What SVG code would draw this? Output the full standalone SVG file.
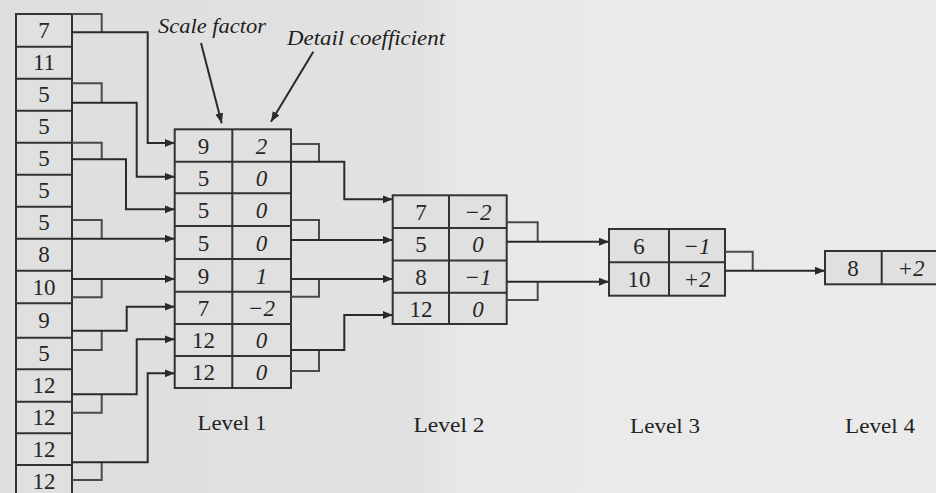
<svg xmlns="http://www.w3.org/2000/svg" width="936" height="493" viewBox="0 0 936 493">
<defs>
<linearGradient id="bg" x1="0" y1="0" x2="1" y2="0">
<stop offset="0" stop-color="#dedede"/>
<stop offset="0.45" stop-color="#e2e2e2"/>
<stop offset="0.5" stop-color="#e9e9e9"/>
<stop offset="1" stop-color="#ebebeb"/>
</linearGradient>
<marker id="arr" markerUnits="userSpaceOnUse" markerWidth="12" markerHeight="10" refX="10" refY="4" orient="auto">
<path d="M0,0 L10,4 L0,8 Z" fill="#2a2a2a"/>
</marker>
</defs>
<style>
.box{fill:#e0e0e0;stroke:#333;stroke-width:2}
.ln{fill:none;stroke:#333;stroke-width:2}
.br{fill:none;stroke:#4a4a4a;stroke-width:2}
.cn{fill:none;stroke:#2a2a2a;stroke-width:2}
.v{font-family:"Liberation Serif",serif;font-size:23px;fill:#262626;text-anchor:middle}
.d{font-family:"Liberation Serif",serif;font-size:23px;font-style:italic;fill:#262626;text-anchor:middle}
.lab{font-family:"Liberation Serif",serif;font-size:22px;fill:#222;text-anchor:middle}
.cap{font-family:"Liberation Serif",serif;font-size:20px;font-style:italic;fill:#1e1e1e}
</style>
<rect x="0" y="0" width="936" height="493" fill="url(#bg)"/>

<g id="input">
<rect class="box" x="16" y="14" width="56" height="490"/>
<path class="ln" d="M16,46.7H72M16,78.7H72M16,110.7H72M16,142.7H72M16,174.7H72M16,206.7H72M16,238.7H72M16,270.7H72M16,303.3H72M16,337.7H72M16,369.3H72M16,401.7H72M16,433.3H72M16,465H72"/>
<text class="v" x="44" y="38">7</text>
<text class="v" x="44" y="70">11</text>
<text class="v" x="44" y="102">5</text>
<text class="v" x="44" y="134">5</text>
<text class="v" x="44" y="166">5</text>
<text class="v" x="44" y="198">5</text>
<text class="v" x="44" y="230">5</text>
<text class="v" x="44" y="262">8</text>
<text class="v" x="44" y="295">10</text>
<text class="v" x="44" y="328">9</text>
<text class="v" x="44" y="361">5</text>
<text class="v" x="44" y="393">12</text>
<text class="v" x="44" y="425">12</text>
<text class="v" x="44" y="457">12</text>
<text class="v" x="44" y="489">12</text>
</g>

<g id="level1">
<rect class="box" x="174.7" y="129.3" width="116.3" height="258.7"/>
<path class="ln" d="M232.3,129.3V388M174.7,161.7H291M174.7,193.3H291M174.7,226H291M174.7,259H291M174.7,291.7H291M174.7,324H291M174.7,356H291"/>
<text class="v" x="203.5" y="153.5">9</text><text class="d" x="261.6" y="153.5">2</text>
<text class="v" x="203.5" y="185.5">5</text><text class="d" x="261.6" y="185.5">0</text>
<text class="v" x="203.5" y="218">5</text><text class="d" x="261.6" y="218">0</text>
<text class="v" x="203.5" y="251">5</text><text class="d" x="261.6" y="251">0</text>
<text class="v" x="203.5" y="283.5">9</text><text class="d" x="261.6" y="283.5">1</text>
<text class="v" x="203.5" y="316">7</text><text class="d" x="261.6" y="316">−2</text>
<text class="v" x="203.5" y="348">12</text><text class="d" x="261.6" y="348">0</text>
<text class="v" x="203.5" y="380">12</text><text class="d" x="261.6" y="380">0</text>
</g>

<g id="level2">
<rect class="box" x="392.7" y="195.3" width="114" height="128.7"/>
<path class="ln" d="M449,195.3V324M392.7,228H506.7M392.7,260.5H506.7M392.7,292.7H506.7"/>
<text class="v" x="421" y="219.5">7</text><text class="d" x="478" y="219.5">−2</text>
<text class="v" x="421" y="252">5</text><text class="d" x="478" y="252">0</text>
<text class="v" x="421" y="284.5">8</text><text class="d" x="478" y="284.5">−1</text>
<text class="v" x="421" y="316.5">12</text><text class="d" x="478" y="316.5">0</text>
</g>

<g id="level3">
<rect class="box" x="609" y="229" width="116" height="66.7"/>
<path class="ln" d="M669,229V295.7M609,262.3H725"/>
<text class="v" x="639" y="253.5">6</text><text class="d" x="697" y="253.5">−1</text>
<text class="v" x="639" y="287">10</text><text class="d" x="697" y="287">+2</text>
</g>

<g id="level4">
<rect class="box" x="825" y="251" width="120" height="33.3"/>
<path class="ln" d="M881.7,251V284.3"/>
<text class="v" x="853" y="275.5">8</text><text class="d" x="911" y="275.5">+2</text>
</g>

<g id="connectors">
<path class="br" d="M72,14H101.7V32.3"/>
<path class="br" d="M72,83.3H101.7V102.7"/>
<path class="br" d="M72,142.7H101.7V159.3"/>
<path class="br" d="M72,220H101.7V238.7"/>
<path class="br" d="M101.7,279V297.3H72"/>
<path class="br" d="M101.7,330.7V350H72"/>
<path class="br" d="M101.7,394.3V412.7H72"/>
<path class="br" d="M101.7,462.3V480H72"/>
<path class="cn" d="M72,32.3H147.7V143H174.7" marker-end="url(#arr)"/>
<path class="cn" d="M72,102.7H136.7V176.7H174.7" marker-end="url(#arr)"/>
<path class="cn" d="M72,159.3H126V209.3H174.7" marker-end="url(#arr)"/>
<path class="cn" d="M72,238.7H174.7" marker-end="url(#arr)"/>
<path class="cn" d="M72,279H174.7" marker-end="url(#arr)"/>
<path class="cn" d="M72,330.7H126.7V306.7H174.7" marker-end="url(#arr)"/>
<path class="cn" d="M72,394.3H136.7V339.3H174.7" marker-end="url(#arr)"/>
<path class="cn" d="M72,462.3H147.7V373.3H174.7" marker-end="url(#arr)"/>

<path class="br" d="M291,144H319V161.7"/>
<path class="br" d="M291,220H319V240"/>
<path class="br" d="M319,279V296.7H291"/>
<path class="br" d="M319,350V371H291"/>
<path class="cn" d="M291,161.7H344.3V199.3H392.7" marker-end="url(#arr)"/>
<path class="cn" d="M291,240H392.7" marker-end="url(#arr)"/>
<path class="cn" d="M291,279H392.7" marker-end="url(#arr)"/>
<path class="cn" d="M291,350H344.3V315H392.7" marker-end="url(#arr)"/>

<path class="br" d="M506.7,222.3H537.7V241.7"/>
<path class="br" d="M537.7,281.7V300H506.7"/>
<path class="cn" d="M506.7,241.7H609" marker-end="url(#arr)"/>
<path class="cn" d="M506.7,281.7H609" marker-end="url(#arr)"/>

<path class="br" d="M725,251.7H752.7V270.7"/>
<path class="cn" d="M725,270.7H825" marker-end="url(#arr)"/>

<path class="cn" d="M201,43L221.7,123.3" marker-end="url(#arr)"/>
<path class="cn" d="M313.3,51.7L271,121.7" marker-end="url(#arr)"/>
</g>

<g id="labels">
<text class="cap" x="158" y="33" textLength="108" lengthAdjust="spacingAndGlyphs">Scale factor</text>
<text class="cap" x="287" y="45" textLength="158" lengthAdjust="spacingAndGlyphs">Detail coefficient</text>
<text class="lab" x="232" y="430" textLength="69" lengthAdjust="spacingAndGlyphs">Level 1</text>
<text class="lab" x="449" y="432" textLength="71" lengthAdjust="spacingAndGlyphs">Level 2</text>
<text class="lab" x="665" y="433" textLength="70" lengthAdjust="spacingAndGlyphs">Level 3</text>
<text class="lab" x="880" y="433" textLength="70" lengthAdjust="spacingAndGlyphs">Level 4</text>
</g>
</svg>
